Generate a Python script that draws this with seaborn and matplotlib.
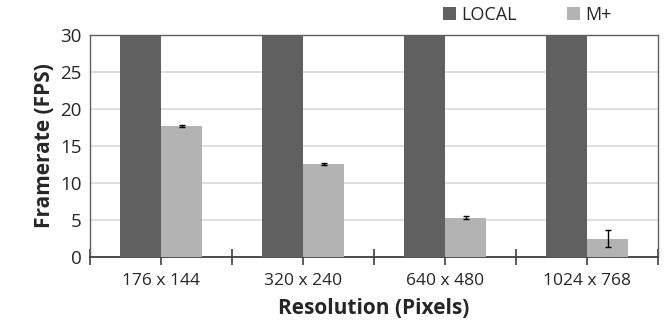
import pandas as pd
import seaborn as sns
import matplotlib.pyplot as plt
import numpy as np

# data
resolutions = ["176 x 144", "320 x 240", "640 x 480", "1024 x 768"]
local_fps = [30, 30, 30, 30]
mplus_fps = [17.7, 12.5, 5.3, 2.45]
mplus_err = [0.15, 0.15, 0.25, 1.15]

df = pd.DataFrame({
    "resolution": resolutions * 2,
    "config": ["LOCAL"] * 4 + ["M+"] * 4,
    "fps": local_fps + mplus_fps,
})

sns.set_style("white")
plt.rcParams["font.family"] = ["Open Sans", "DejaVu Sans"]

fig, ax = plt.subplots(figsize=(6.68, 3.29), dpi=100)
fig.subplots_adjust(left=0.135, right=0.985, top=0.893, bottom=0.22)

sns.barplot(
    data=df,
    x="resolution",
    y="fps",
    hue="config",
    order=resolutions,
    palette={"LOCAL": "#606060", "M+": "#b3b3b3"},
    width=0.58,
    errorbar=None,
    linewidth=0,
    ax=ax,
    zorder=3,
)

# error bars for M+ (second hue group)
mplus_bars = ax.containers[1]
xs = [p.get_x() + p.get_width() / 2 for p in mplus_bars]
ax.errorbar(xs, mplus_fps, yerr=mplus_err, fmt="none", ecolor="#000000",
            elinewidth=1, capsize=2.5, capthick=1, zorder=4)

ax.set_ylim(0, 30)
ax.set_xlim(-0.5, 3.5)
ax.set_yticks([0, 5, 10, 15, 20, 25, 30])
ax.yaxis.grid(True, color="#d9d9d9", linewidth=1.2, zorder=0)
ax.set_axisbelow(True)

# tick marks at every half category, like the original
ax.set_xticks(np.arange(-0.5, 3.51, 1.0), minor=True)
ax.tick_params(axis="x", which="both", bottom=True, direction="inout",
               length=12, width=1.2, color="#404040")
ax.tick_params(axis="x", which="major", labelsize=12.5, pad=6)
ax.tick_params(axis="y", length=0, labelsize=13.5, pad=6)

for s in ["left", "right", "top"]:
    ax.spines[s].set_color("#606060")
    ax.spines[s].set_linewidth(1)
ax.spines["bottom"].set_color("#404040")
ax.spines["bottom"].set_linewidth(1.3)

ax.set_xlabel("Resolution (Pixels)", fontsize=15, fontweight="bold", labelpad=6)
ax.set_ylabel("Framerate (FPS)", fontsize=15, fontweight="bold", labelpad=4)

ax.legend(loc="center", bbox_to_anchor=(0.79, 0.955), bbox_transform=fig.transFigure,
          ncol=2, frameon=False, fontsize=13, handlelength=0.7, handleheight=0.7,
          handletextpad=0.3, columnspacing=2.8, borderaxespad=0)

fig.savefig("out.png")
